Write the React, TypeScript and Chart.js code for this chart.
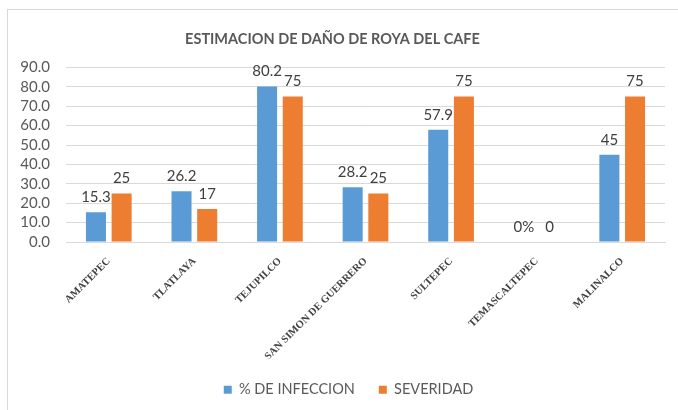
import React, { useEffect, useRef } from "react";
import { Chart, registerables } from "chart.js";

Chart.register(...registerables);

const categories = [
  "AMATEPEC",
  "TLATLAYA",
  "TEJUPILCO",
  "SAN SIMON DE GUERRERO",
  "SULTEPEC",
  "TEMASCALTEPEC",
  "MALINALCO",
];
const infeccion = [15.3, 26.2, 80.2, 28.2, 57.9, 0, 45];
const severidad = [25, 17, 75, 25, 75, 0, 75];
const infeccionLabels = ["15.3", "26.2", "80.2", "28.2", "57.9", "0%", "45"];
const severidadLabels = ["25", "17", "75", "25", "75", "0", "75"];
const seriesNames = ["% DE INFECCION", "SEVERIDAD"];
const title = "ESTIMACION DE DAÑO DE ROYA DEL CAFE";

const BLUE = "#5B9BD5";
const ORANGE = "#ED7D31";
const GRAY = "#595959";

const valueLabelPlugin = {
  id: "valueLabels",
  afterDatasetsDraw(chart: any) {
    const ctx = chart.ctx;
    const texts = [infeccionLabels, severidadLabels];
    ctx.save();
    ctx.font = "15px Lato";
    ctx.fillStyle = "#404040";
    ctx.textAlign = "center";
    ctx.textBaseline = "middle";
    chart.data.datasets.forEach((_: any, di: number) => {
      const meta = chart.getDatasetMeta(di);
      meta.data.forEach((el: any, i: number) => {
        ctx.fillText(texts[di][i], el.x, el.y - 15);
      });
    });
    ctx.restore();
  },
};

// centre the legend under the whole frame rather than the padded area
const legendShift = {
  id: "legendShift",
  afterLayout(chart: any) {
    const lg = chart.legend;
    if (lg) {
      lg.left += 16;
      lg.right += 16;
    }
  },
};

export default function App() {
  const ref = useRef<HTMLCanvasElement | null>(null);
  useEffect(() => {
    if (!ref.current) return;
    const chart = new Chart(ref.current, {
      type: "bar",
      data: {
        labels: categories,
        datasets: [
          {
            label: seriesNames[0],
            data: infeccion,
            backgroundColor: BLUE,
            barPercentage: 0.78,
            categoryPercentage: 0.6,
          },
          {
            label: seriesNames[1],
            data: severidad,
            backgroundColor: ORANGE,
            barPercentage: 0.78,
            categoryPercentage: 0.6,
          },
        ],
      },
      options: {
        responsive: false,
        animation: false,
        devicePixelRatio: 1,
        layout: { padding: { left: 0, right: 13, top: 0, bottom: 3 } },
        plugins: {
          title: {
            display: true,
            text: title,
            color: GRAY,
            font: { family: "Lato", size: 14.5, weight: "bold" },
            padding: { top: 31, bottom: 19 },
          },
          legend: {
            position: "bottom",
            labels: {
              boxWidth: 8,
              boxHeight: 8,
              padding: 24,
              color: GRAY,
              font: { family: "Lato", size: 14.5 },
            },
          },
          tooltip: { enabled: false },
        },
        scales: {
          x: {
            grid: { display: false, drawTicks: false },
            border: { display: true, color: "#d9d9d9" },
            ticks: {
              autoSkip: false,
              minRotation: 45,
              maxRotation: 45,
              padding: 13,
              color: "#404040",
              font: { family: "'Liberation Serif'", size: 10.5, weight: "bold" },
            },
            afterFit: (s: any) => {
              s.height = 116.5;
            },
          },
          y: {
            min: 0,
            max: 90,
            grid: { color: "#d9d9d9", drawTicks: false },
            border: { display: false },
            ticks: {
              stepSize: 10,
              autoSkip: false,
              padding: 16,
              color: GRAY,
              font: { family: "Lato", size: 15 },
              callback: (v: any) => Number(v).toFixed(1),
            },
            afterFit: (s: any) => {
              s.width = 66;
            },
          },
        },
      },
      plugins: [valueLabelPlugin, legendShift],
    });
    return () => chart.destroy();
  }, []);

  return (
    <div
      style={{
        position: "fixed",
        left: 0,
        top: 0,
        width: 678,
        height: 410,
        overflow: "hidden",
        background: "#fff",
      }}
    >
      <div
        style={{
          position: "absolute",
          left: 7,
          top: 9,
          width: 700,
          height: 430,
          border: "1px solid #d9d9d9",
        }}
      />
      <canvas
        ref={ref}
        width={678}
        height={410}
        style={{ position: "absolute", left: 0, top: 0 }}
      />
    </div>
  );
}
